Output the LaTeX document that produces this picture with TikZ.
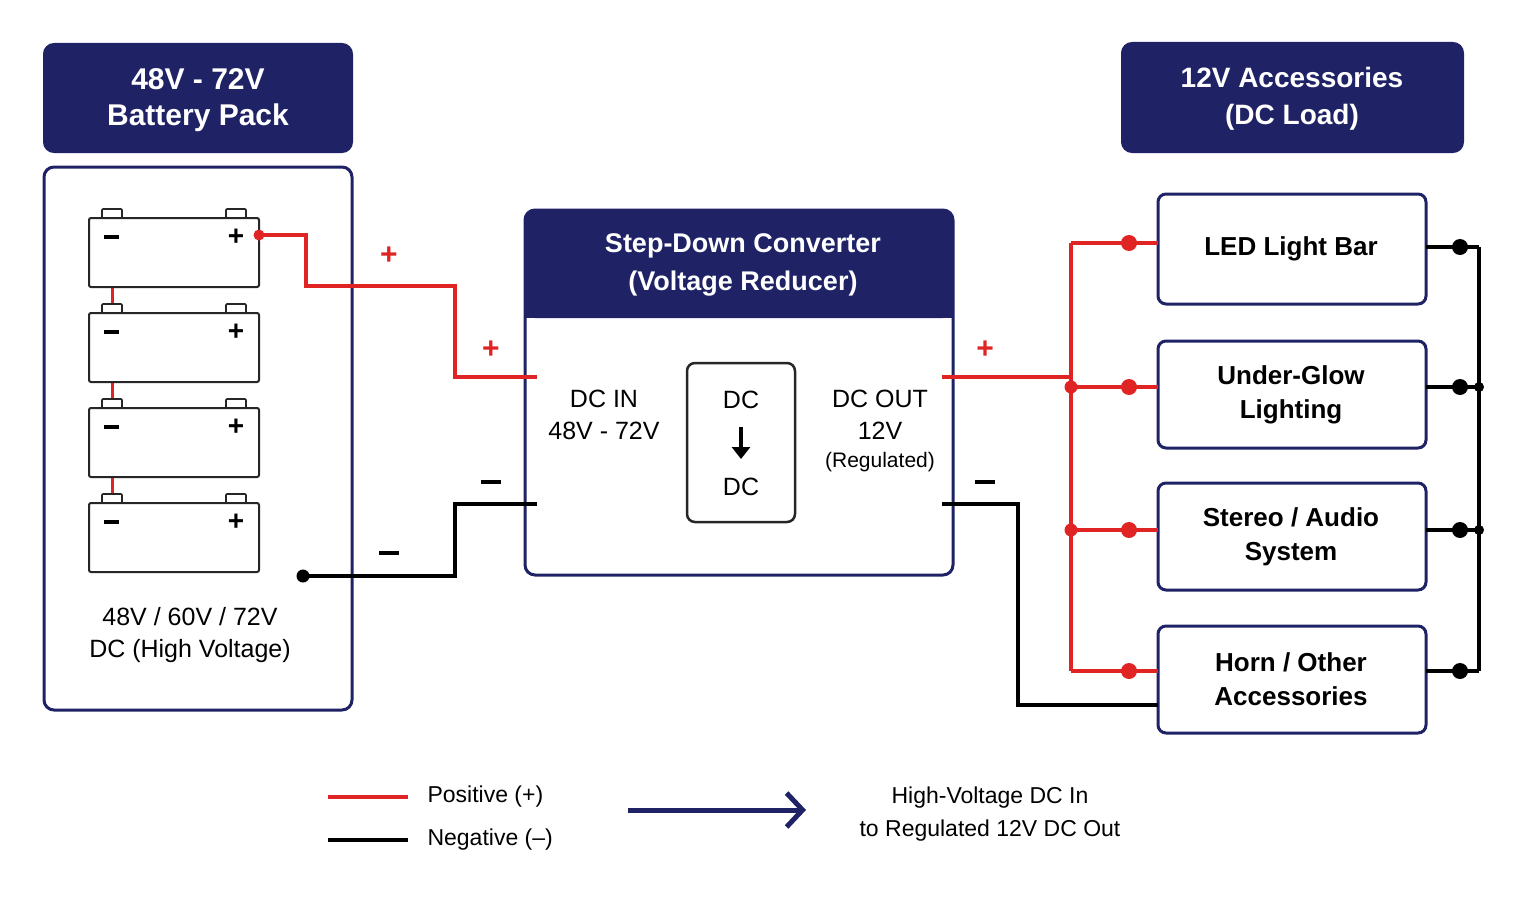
\documentclass[tikz,border=0pt]{standalone}
\usepackage{fontspec}
\setmainfont{Liberation Sans}
\usetikzlibrary{arrows.meta}
\definecolor{navy}{HTML}{1F2366}
\definecolor{wred}{HTML}{E02424}
\newcommand{\mybar}[1]{\rule[6pt]{#1}{3.5pt}}
\tikzset{
 hdr/.style={fill=navy,draw=navy,rounded corners=10pt,line width=2pt},
 frame/.style={draw=navy,line width=3pt,rounded corners=10pt,fill=white},
 bat/.style={draw=black!85,line width=2pt,rounded corners=2pt,fill=white},
 tab/.style={draw=black!85,line width=1.6pt,fill=white,rounded corners=1pt},
 pw/.style={wred,line width=3.5pt},
 nw/.style={black,line width=3.5pt},
 rdot/.style={circle,fill=wred,inner sep=0pt,minimum size=16pt},
 bdot/.style={circle,fill=black,inner sep=0pt,minimum size=16pt},
 sdot/.style={circle,fill=black,inner sep=0pt,minimum size=10pt},
 htxt/.style={text=white,font=\fontsize{30}{36}\selectfont\bfseries,align=center},
 ltxt/.style={font=\fontsize{26}{34}\selectfont\bfseries,align=center},
 ntxt/.style={font=\fontsize{25}{32}\selectfont,align=center},
 sign/.style={font=\fontsize{30}{30}\selectfont\bfseries},
 minus/.style={fill,inner sep=0pt,minimum width=20pt,minimum height=4pt},
}
\begin{document}
\begin{tikzpicture}[x=1pt,y=-1pt]
\useasboundingbox (0,0) rectangle (1528,899);
% left header
\draw[hdr] (44,44) rectangle (352,152);
\node[htxt] (lh) at (198,100) {48V - 72V\\Battery Pack};
\draw[frame] (44,167) rectangle (352,710);
% batteries
\foreach \y in {287,382,477}{\draw[wred,line width=3pt] (112,\y+1) -- (112,\y+17);}
\foreach \t/\n in {218/b1,313/b2,408/b3,503/b4}{
  \draw[tab] (102,\t-9) rectangle (122,\t);
  \draw[tab] (226,\t-9) rectangle (246,\t);
  \draw[bat] (89,\t) rectangle (259,\t+69);
  \node[minus,minimum width=15pt,minimum height=3.5pt] at (111,\t+19) {};
  \node[sign,font=\fontsize{28}{28}\selectfont\bfseries] at (236,\t+19) {+};
}
\node[ntxt] (bt) at (190,635) {48V / 60V / 72V\\DC (High Voltage)};
% converter
\fill[white] (525,210) rectangle (953,575);
\fill[navy,rounded corners=10pt] (525,210) rectangle (953,318);
\fill[navy] (525,290) rectangle (953,318);
\draw[navy,line width=3pt,rounded corners=10pt] (525,210) rectangle (953,575);
\node[htxt,font=\fontsize{27}{38}\selectfont\bfseries] (ct) at (743,265) {Step-Down Converter\\(Voltage Reducer)};
\node[ntxt] (din) at (604,415) {DC IN\\48V - 72V};
\draw[draw=black!85,line width=2.5pt,rounded corners=8pt] (687,363) rectangle (795,522);
\node[ntxt] (dc1) at (741,400) {DC};
\node[ntxt] (dc2) at (741,487) {DC};
\draw[-{Triangle[length=12pt,width=18pt]},line width=4pt] (741,427) -- (741,459);
\node[ntxt] (dout) at (880,415) {DC OUT\\12V};
\node[font=\fontsize{21}{24}\selectfont] (reg) at (880,462) {(Regulated)};
% input wires
\node[rdot,minimum size=11pt] (rp) at (259,235) {};
\coordinate (cinp) at (537,377);
\draw[pw] (rp.center) -- (306,235) -- (306,286) -- (455,286) -- (455,377) -- (cinp);
\node[sign,wred] at (389,256) {+};
\node[sign,wred] at (491,350) {+};
\node[bdot,minimum size=13pt] (bn) at (303,576) {};
\coordinate (cinn) at (537,504);
\draw[nw] (bn.center) -- (455,576) -- (455,504) -- (cinn);
\node[minus] at (389,553) {};
\node[minus] at (491,482) {};
% right header
\draw[hdr] (1122,43) rectangle (1463,152);
\node[htxt,font=\fontsize{28}{37}\selectfont\bfseries] (rh) at (1292,99) {12V Accessories\\(DC Load)};
% loads
\foreach \a/\b/\n/\txt in {194/304/l1/{LED Light Bar},341/448/l2/{Under-Glow\\Lighting},483/590/l3/{Stereo / Audio\\System},626/733/l4/{Horn / Other\\Accessories}}{
  \draw[navy,line width=3pt,rounded corners=8pt] (1158,\a) rectangle (1426,\b);
  \node[ltxt] (\n) at (1291,{(\a+\b)/2}) {\txt};
}
% output wires
\coordinate (cop) at (942,377);
\draw[pw] (cop) -- (1071,377);
\node[sign,wred] at (985,350) {+};
\draw[pw] (1071,243) -- (1071,671);
\foreach \y in {243,387,530,671}{
  \draw[pw] (1071,\y) -- (1158,\y);
  \node[rdot] at (1129,\y) {};
}
\node[rdot,minimum size=13pt] at (1071,387) {};
\node[rdot,minimum size=13pt] at (1071,530) {};
\coordinate (con) at (942,504);
\draw[nw] (con) -- (1018,504) -- (1018,705) -- (1158,705);
\node[minus] at (985,482) {};
\draw[nw] (1479,247) -- (1479,671);
\foreach \y in {247,387,530,671}{
  \draw[nw] (1426,\y) -- (1479,\y);
  \node[bdot] at (1460,\y) {};
}
\node[sdot] at (1479,387) {};
\node[sdot] at (1479,530) {};
% legend
\draw[pw] (328,797) -- (408,797);
\node[ntxt,anchor=west,font=\fontsize{23}{28}\selectfont] (lp) at (424,797) {Positive (+)};
\draw[nw] (328,840) -- (408,840);
\node[ntxt,anchor=west,font=\fontsize{23}{28}\selectfont] (ln) at (424,840) {Negative (–)};
\draw[navy,line width=5pt,-{Straight Barb[length=16pt,width=34pt,line width=5pt]}] (628,810) -- (806,810);
\node[ntxt,font=\fontsize{23}{33}\selectfont] (lg) at (990,814) {High-Voltage DC In\\to Regulated 12V DC Out};
\end{tikzpicture}
\end{document}
